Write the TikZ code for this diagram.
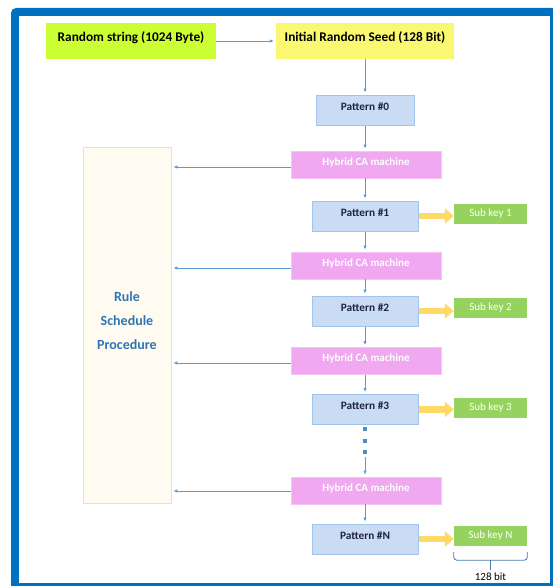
\documentclass[tikz,border=0pt]{standalone}
\usepackage{fontspec}
\setmainfont{Carlito}
\usetikzlibrary{arrows.meta,calc}
\definecolor{frameblue}{HTML}{0070C0}
\definecolor{limefill}{HTML}{CCFF33}
\definecolor{seedfill}{HTML}{FAF870}
\definecolor{patfill}{HTML}{C9DCF3}
\definecolor{patdraw}{HTML}{A3C4EA}
\definecolor{hybfill}{HTML}{F0A8F0}
\definecolor{hybdraw}{HTML}{F4C4F4}
\definecolor{skfill}{HTML}{95D35E}
\definecolor{yelarrow}{HTML}{FFD966}
\definecolor{conn}{HTML}{5B9BD5}
\definecolor{rulefill}{HTML}{FFFBF0}
\definecolor{ruledraw}{HTML}{F6D2F6}
\definecolor{ruletext}{HTML}{2E75B6}
\definecolor{pattext}{HTML}{1F2440}
\tikzset{
  topbox/.style={draw=none, inner sep=0pt, font=\bfseries\fontsize{13.3}{15}\selectfont, text depth=8pt, minimum height=36pt},
  patbox/.style={draw=patdraw, line width=1pt, fill=patfill, inner sep=0pt, text=pattext, font=\bfseries\fontsize{11.3}{13}\selectfont, text depth=7pt, minimum width=106pt, minimum height=30pt},
  hybbox/.style={draw=hybdraw, line width=0.8pt, fill=hybfill, inner sep=0pt, text=white, font=\bfseries\fontsize{11}{13}\selectfont, text depth=6pt, minimum width=150pt, minimum height=27pt},
  skbox/.style={draw=none, fill=skfill, inner sep=0pt, text=white, font=\fontsize{11}{13}\selectfont, minimum width=73pt, minimum height=20pt},
  flow/.style={draw=conn, line width=0.8pt, -{Latex[length=4pt,width=3.5pt]}, shorten >=2pt},
  keyarrow/.style={draw=yelarrow, line width=6.5pt, -{Triangle[length=9pt,width=15pt]}},
  dotsq/.style={fill=conn!90!black, minimum size=4pt, inner sep=0pt}
}
\begin{document}
\begin{tikzpicture}[x=1pt,y=-1pt]
\useasboundingbox (0,0) rectangle (553,586);
\begin{scope}
\clip (0,0) rectangle (553,586);
\fill[frameblue, rounded corners=5pt] (11,8) rectangle (575,605);
\end{scope}
\fill[white] (19,16) rectangle (550,583);

% top row
\node[topbox, fill=limefill, minimum width=170pt] (rs) at (131,41) {Random string (1024 Byte)};
\node[topbox, fill=seedfill, minimum width=178pt] (seed) at (365,41) {Initial Random Seed (128 Bit)};

% patterns and hybrids
\node[patbox, minimum width=98pt] (p0) at (365,110) {Pattern \#0};
\node[hybbox] (h1) at (366,164.5) {Hybrid CA machine};
\node[patbox] (p1) at (365,216) {Pattern \#1};
\node[hybbox] (h2) at (366,265.5) {Hybrid CA machine};
\node[patbox] (p2) at (365,311) {Pattern \#2};
\node[hybbox] (h3) at (366,361) {Hybrid CA machine};
\node[patbox] (p3) at (365,409.5) {Pattern \#3};
\node[dotsq] (d1) at (365,429) {};
\node[dotsq] (d2) at (365,440.5) {};
\node[dotsq] (d3) at (365,452) {};
\node[hybbox] (h4) at (366,490.5) {Hybrid CA machine};
\node[patbox] (pN) at (365,539) {Pattern \#N};

% sub keys
\node[skbox] (sk1) at (490.5,214) {Sub key 1};
\node[skbox] (sk2) at (490.5,307.5) {Sub key 2};
\node[skbox] (sk3) at (490.5,407.5) {Sub key 3};
\node[skbox] (skN) at (490.5,536) {Sub key N};

% rule box
\node[draw=ruledraw, fill=rulefill, line width=0.8pt, minimum width=88pt, minimum height=356pt, inner sep=0pt] (rule) at (127,325) {};
\node[text=ruletext, font=\bfseries\fontsize{14}{24}\selectfont, align=center] (ruletxt) at (127,321) {Rule\\Schedule\\Procedure};

% connectors
\draw[flow] (rs) -- (seed);
\draw[flow] (seed.south -| p0.north) -- (p0);
\draw[flow] (p0) -- (h1.north -| p0.south);
\draw[flow] (h1.south -| p1.north) -- (p1);
\draw[flow] (p1) -- (h2.north -| p1.south);
\draw[flow] (h2.south -| p2.north) -- (p2);
\draw[flow] (p2) -- (h3.north -| p2.south);
\draw[flow] (h3.south -| p3.north) -- (p3);
\draw[flow, shorten <=3pt] (d3) -- (h4.north -| d3.south);
\draw[flow] (h4.south -| pN.north) -- (pN);

\foreach \h/\dy in {h1/2.5,h2/2.5,h3/2,h4/0.5}{
  \draw[flow] ([yshift=-\dy pt]\h.west) -- ([yshift=-\dy pt]\h.west -| rule.east);
}

% key arrows
\draw[keyarrow] (p1.east) -- (sk1.west |- p1.east);
\draw[keyarrow] (p2.east) -- (sk2.west |- p2.east);
\draw[keyarrow] (p3.east) -- (sk3.west |- p3.east);
\draw[keyarrow] (pN.east) -- (skN.west |- pN.east);

% brace
\coordinate (bl) at ([yshift=-6pt]skN.south west);
\coordinate (br) at ([yshift=-6pt]skN.south east);
\coordinate (bm) at ($(bl)!0.5!(br)$);
\draw[conn!80!black, line width=0.8pt, rounded corners=3pt] (bl) -- ++(0,8) -| (br);
\draw[conn!80!black, line width=0.8pt] ([yshift=-8pt]bm) -- ++(0,10);
\node[font=\fontsize{11}{13}\selectfont, inner sep=0pt] (bits) at (490.5,577) {128 bit};
\end{tikzpicture}
\end{document}
